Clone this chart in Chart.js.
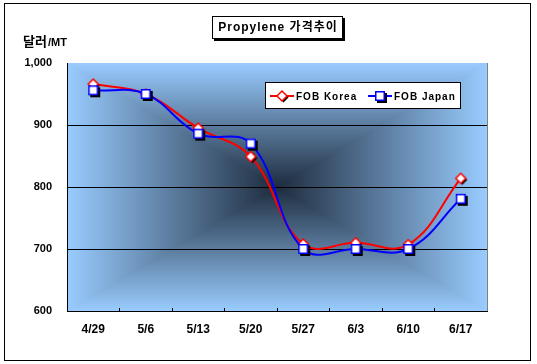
<!DOCTYPE html>
<html>
<head>
<meta charset="utf-8">
<script src="https://cdn.jsdelivr.net/npm/chart.js@4/dist/chart.umd.min.js"></script>
<style>
  body { margin: 0; background: #fff; }
  #wrap { width: 537px; height: 364px; }
</style>
</head>
<body>
<div id="wrap"><canvas id="lineChart" width="537" height="364"></canvas></div>
<script>
// Propylene 가격추이 - FOB Korea / FOB Japan
const weeks = ['4/29', '5/6', '5/13', '5/20', '5/27', '6/3', '6/10', '6/17'];
const fobKorea = [966, 950, 895, 849, 708, 710, 707, 814];
const fobJapan = [956, 950, 886, 870, 700, 700, 700, 781];
const yMin = 600, yMax = 1000, yStep = 100;

const FONT = '"Liberation Sans", "Noto Sans CJK KR", Arial, sans-serif';

// marker images with the little black drop shadow
function markerSquare(color) {
  const c = document.createElement('canvas');
  c.width = 16; c.height = 16;
  const g = c.getContext('2d');
  g.fillStyle = '#000';
  g.fillRect(5, 5, 10, 10);
  g.fillStyle = '#fff';
  g.fillRect(3, 3, 10, 10);
  g.strokeStyle = color;
  g.lineWidth = 1.5;
  g.strokeRect(3.75, 3.75, 8.5, 8.5);
  return c;
}

function markerDiamond(color) {
  const c = document.createElement('canvas');
  c.width = 16; c.height = 16;
  const g = c.getContext('2d');
  const dia = (cx, cy, r) => {
    g.beginPath();
    g.moveTo(cx, cy - r); g.lineTo(cx + r, cy); g.lineTo(cx, cy + r); g.lineTo(cx - r, cy);
    g.closePath();
  };
  g.fillStyle = '#000';
  dia(9.5, 9.5, 5); g.fill();
  g.fillStyle = '#fff';
  dia(8, 8, 5); g.fill();
  g.strokeStyle = color;
  g.lineWidth = 1.5;
  g.stroke();
  return c;
}

const koreaMark = markerDiamond('#ff0000');
const japanMark = markerSquare('#0000ff');

let bgCache = null;

const decor = {
  id: 'decor',
  beforeDraw(chart) {
    const { ctx, chartArea: a } = chart;
    ctx.save();
    ctx.fillStyle = '#fff';
    ctx.fillRect(0, 0, chart.width, chart.height);
    // rectangular "from centre" gradient like Excel
    const w = Math.round(a.right - a.left), h = Math.round(a.bottom - a.top);
    if (!bgCache || bgCache.width !== w || bgCache.height !== h) {
      bgCache = document.createElement('canvas');
      bgCache.width = w; bgCache.height = h;
      const g = bgCache.getContext('2d');
      const img = g.createImageData(w, h);
      const dark = [30, 44, 62], light = [153, 204, 255];
      for (let y = 0; y < h; y++) {
        for (let x = 0; x < w; x++) {
          const t = Math.max(Math.abs(x + 0.5 - w / 2) / (w / 2), Math.abs(y + 0.5 - h / 2) / (h / 2));
          const i = (y * w + x) * 4;
          for (let k = 0; k < 3; k++) img.data[i + k] = dark[k] + (light[k] - dark[k]) * t;
          img.data[i + 3] = 255;
        }
      }
      g.putImageData(img, 0, 0);
    }
    ctx.drawImage(bgCache, a.left, a.top);
    ctx.restore();
  },
  beforeDatasetsDraw(chart) {
    const { ctx, chartArea: a } = chart;
    ctx.save();
    ctx.strokeStyle = '#808080';
    ctx.lineWidth = 1;
    ctx.beginPath();
    ctx.moveTo(a.right + 0.5, a.top);
    ctx.lineTo(a.right + 0.5, a.bottom);
    ctx.stroke();
    ctx.restore();
  },
  afterDraw(chart) {
    const { ctx } = chart;
    ctx.save();
    // outer frame
    ctx.strokeStyle = '#000';
    ctx.lineWidth = 1;
    ctx.strokeRect(4.5, 3.5, 526, 357);

    // title box
    ctx.fillStyle = '#000';
    ctx.fillRect(214, 18, 131, 23);
    ctx.fillStyle = '#fff';
    ctx.fillRect(212, 16, 131, 23);
    ctx.strokeRect(212.5, 16.5, 130, 22);
    ctx.fillStyle = '#000';
    ctx.font = 'bold 12px ' + FONT;
    ctx.letterSpacing = '1px';
    ctx.textAlign = 'center';
    ctx.textBaseline = 'middle';
    ctx.fillText('Propylene 가격추이', 278, 28);

    // unit label
    ctx.letterSpacing = '0px';
    ctx.textAlign = 'left';
    ctx.font = 'bold 13px ' + FONT;
    ctx.fillText('달러', 23, 42);
    const uw = ctx.measureText('달러').width;
    ctx.font = 'bold 11px ' + FONT;
    ctx.fillText('/MT', 23 + uw + 1, 43);

    // legend
    ctx.fillStyle = '#fff';
    ctx.fillRect(265, 82, 196, 27);
    ctx.strokeStyle = '#000';
    ctx.strokeRect(265.5, 82.5, 195, 26);
    const items = [
      { label: 'FOB Korea', color: '#ff0000', mark: koreaMark, x: 270 },
      { label: 'FOB Japan', color: '#0000ff', mark: japanMark, x: 368 }
    ];
    const ly = 96;
    ctx.font = 'bold 10px ' + FONT;
    ctx.letterSpacing = '1px';
    items.forEach(it => {
      ctx.strokeStyle = it.color;
      ctx.lineWidth = 2;
      ctx.beginPath();
      ctx.moveTo(it.x, ly);
      ctx.lineTo(it.x + 24, ly);
      ctx.stroke();
      ctx.drawImage(it.mark, it.x + 12 - 8, ly - 8);
      ctx.fillStyle = '#000';
      ctx.fillText(it.label, it.x + 26, ly + 1);
    });
    ctx.restore();
  }
};

new Chart(document.getElementById('lineChart'), {
  type: 'line',
  data: {
    labels: weeks,
    datasets: [
      {
        label: 'FOB Korea',
        data: fobKorea,
        borderColor: '#ff0000',
        borderWidth: 2,
        pointStyle: koreaMark,
        pointRadius: 5,
        tension: 0.4,
        fill: false,
        order: 1
      },
      {
        label: 'FOB Japan',
        data: fobJapan,
        borderColor: '#0000ff',
        borderWidth: 2,
        pointStyle: japanMark,
        pointRadius: 5,
        tension: 0.4,
        fill: false,
        order: 0
      }
    ]
  },
  options: {
    responsive: false,
    animation: false,
    layout: { padding: { top: 63, left: 0, right: 50, bottom: 0 } },
    plugins: {
      legend: { display: false },
      title: { display: false },
      tooltip: { enabled: false }
    },
    scales: {
      x: {
        offset: true,
        afterFit: s => { s.height = 53; },
        grid: { offset: true, drawOnChartArea: false, tickLength: -3, color: '#000' },
        border: { color: '#000', width: 1 },
        ticks: { color: '#000', font: { family: FONT, size: 12, weight: 'bold' }, padding: 14, maxRotation: 0 }
      },
      y: {
        min: yMin,
        max: yMax,
        afterFit: s => { s.width = 67; },
        grid: {
          drawTicks: false,
          color: ctx => (ctx.tick && (ctx.tick.value === yMax || ctx.tick.value === yMin)) ? 'rgba(0,0,0,0)' : '#000'
        },
        border: { color: '#000', width: 1 },
        ticks: { stepSize: yStep, color: '#000', padding: 15, font: { family: FONT, size: 11, weight: 'bold' } }
      }
    }
  },
  plugins: [decor]
});
</script>
</body>
</html>
